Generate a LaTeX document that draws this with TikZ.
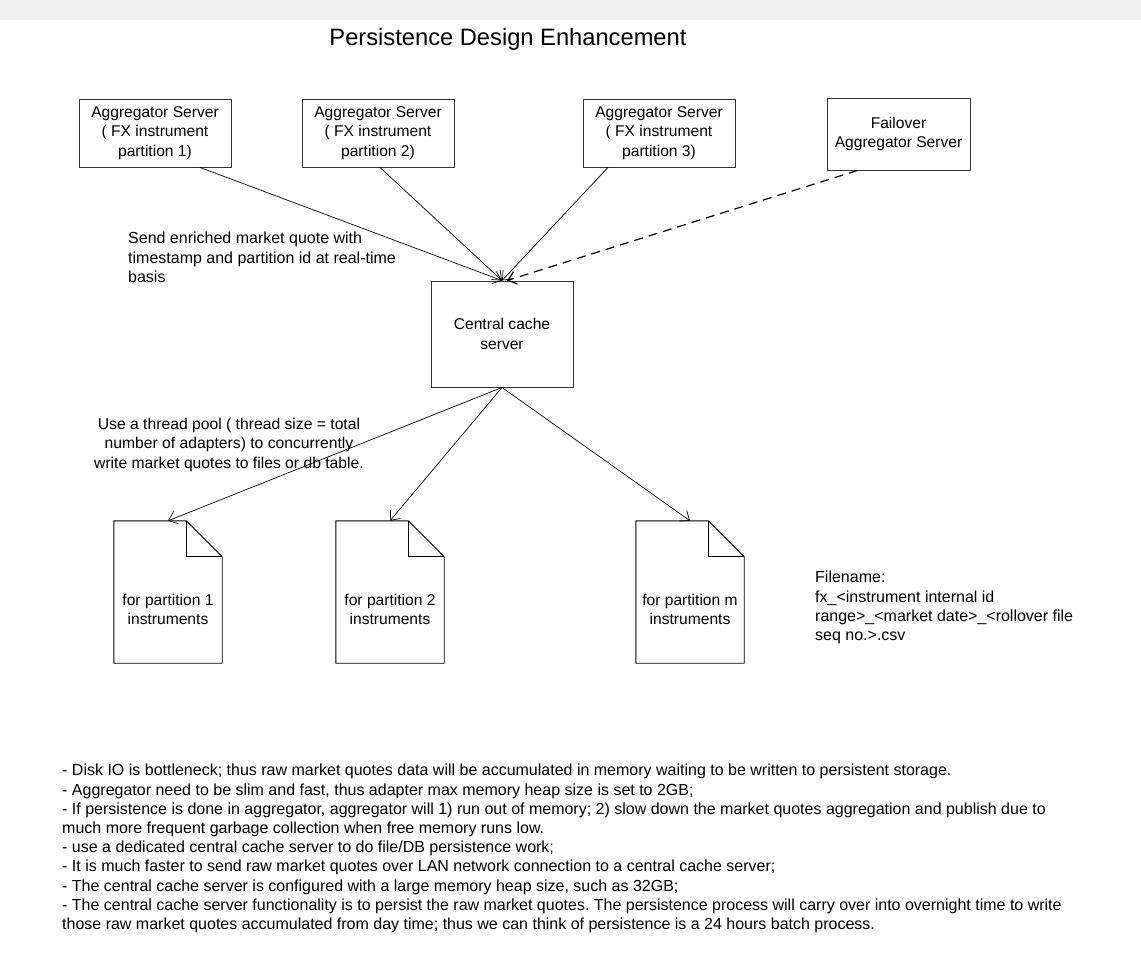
\documentclass[tikz,border=0pt]{standalone}
\usepackage{fontspec}
\setmainfont{Liberation Sans}
\usetikzlibrary{arrows.meta}
\frenchspacing

\tikzset{
    server/.style={draw=black!80, line width=0.9pt, minimum width=152, minimum height=68,
        align=center, inner sep=2pt, font=\fontsize{15.6}{19.3}\selectfont},
    docshape/.style={minimum width=108, minimum height=142, inner sep=0pt},
    docline/.style={draw=black, line width=0.9pt},
    note/.style={inner sep=0pt, font=\fontsize{16}{19.3}\selectfont},
    feed/.style={line width=0.7pt, -{Straight Barb[length=8pt,width=13pt]}},
}

\begin{document}
\begin{tikzpicture}[x=1pt, y=-1pt]
        \useasboundingbox (0,0) rectangle (1141,972);
        % Grey band on top
        \fill[black!6] (0,0) rectangle (1141,20);

        % Title
        \node[font=\fontsize{23.7}{28}\selectfont] (title) at (508,39) {Persistence Design Enhancement};

        % Aggregator servers
        \node[server] (agg1) at (155,133) {Aggregator Server\\( FX instrument\\partition 1)};
        \node[server] (agg2) at (378,133) {Aggregator Server\\( FX instrument\\partition 2)};
        \node[server] (agg3) at (659,133) {Aggregator Server\\( FX instrument\\partition 3)};
        \node[server, minimum width=143, minimum height=72] (fail) at (898.5,134) {Failover\\Aggregator Server};

        % Central cache
        \node[server, minimum width=142, minimum height=106] (cache) at (502,334) {Central cache\\server};

        % Files, one per partition
        \foreach \d/\x/\p in {doc1/168/1, doc2/390/2, doc3/690/m} {
            \node[docshape] (\d) at (\x,592) {};
            \node[server, draw=none, minimum width=0, minimum height=0] (\d text) at (\x,609.5) {for partition \p\\instruments};
            \draw[docline] (\d.north west) -- ([xshift=-36]\d.north east) -- ([yshift=-36]\d.north east)
                -- (\d.south east) -- (\d.south west) -- cycle;
            \draw[docline] ([xshift=-36]\d.north east) |- ([yshift=-36]\d.north east);
        }

        % Quotes sent to the cache
        \draw[feed] ([xshift=45]agg1.south) -- (cache.north);
        \draw[feed] ([xshift=2]agg2.south) -- (cache.north);
        \draw[feed] ([xshift=-51]agg3.south) -- (cache.north);
        \draw[feed, line width=1.2pt, dash pattern=on 9pt off 6pt] ([xshift=-41]fail.south) -- ([xshift=5]cache.north);

        % Cache writes to files
        \foreach \d in {doc1,doc2,doc3}
            \draw[feed] (cache.south) -- (\d.north);

        % Notes
        \node[note, anchor=north west, align=left] (sendnote) at (128,232)
            {Send enriched market quote with\\timestamp and partition id at real-time\\basis};
        \node[note, anchor=north, align=center, font=\fontsize{15.7}{19.3}\selectfont] (poolnote) at (229,418)
            {Use a thread pool ( thread size = total\\number of adapters) to concurrently\\write market quotes to files or db table.};
        \node[note, anchor=north west, align=left] (filenote) at (815,571)
            {Filename:\\fx\_<instrument internal id\\range>\_<market date>\_<rollover file\\seq no.>.csv};
        \node[note, anchor=north west, align=left, font=\fontsize{16}{19.2}\selectfont] (remarks) at (62,764)
            {- Disk IO is bottleneck; thus raw market quotes data will be accumulated in memory waiting to be written to persistent storage.\\
             - Aggregator need to be slim and fast, thus adapter max memory heap size is set to 2GB;\\
             - If persistence is done in aggregator, aggregator will 1) run out of memory; 2) slow down the market quotes aggregation and publish due to\\
             much more frequent garbage collection when free memory runs low.\\
             - use a dedicated central cache server to do file/DB persistence work;\\
             - It is much faster to send raw market quotes over LAN network connection to a central cache server;\\
             - The central cache server is configured with a large memory heap size, such as 32GB;\\
             - The central cache server functionality is to persist the raw market quotes. The persistence process will carry over into overnight time to write\\
             those raw market quotes accumulated from day time; thus we can think of persistence is a 24 hours batch process.};
    \end{tikzpicture}
\end{document}
